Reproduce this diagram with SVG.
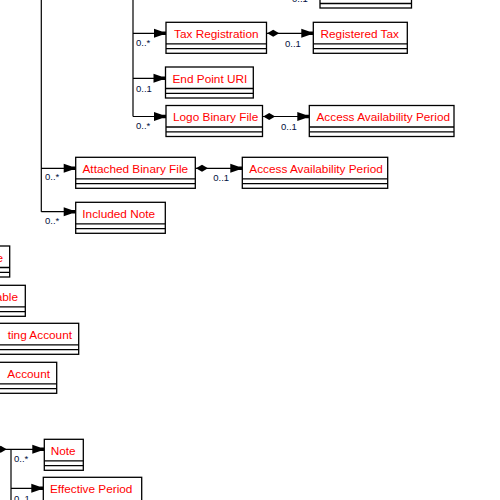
<svg xmlns="http://www.w3.org/2000/svg" xmlns:xlink="http://www.w3.org/1999/xlink" width="500" height="500" viewBox="0 0 500 500">
<style>
.box{fill:#fff;stroke:#000;stroke-width:1.3}
.sep{stroke:#000;stroke-width:1.3}
.ln{fill:none;stroke:#000;stroke-width:1.2}
.nm{font-family:"Liberation Sans",Arial,sans-serif;font-size:11.8px;fill:#f00}
.mul{font-family:"Liberation Sans",Arial,sans-serif;font-size:9.5px;fill:#001040}
.hd{fill:#000}
</style>
<defs>
<path id="arr" d="M-12,-4.5 L-4,-1.8 L0,-1.8 L0,1.8 L-4,1.8 L-12,4.5 Z"/>
<path id="dia" d="M0,0 L6,-3.5 L12,0 L6,3.5 Z"/>
</defs>
<rect width="500" height="500" fill="#fff"/>
<g id="connectors">
<path class="ln" d="M133,0 V116.5 M133,33.3 H166 M133,78.3 H165.5 M133,116.5 H166"/>
<path class="ln" d="M266.5,33.3 H313.3 M262.5,116.5 H309.3"/>
<path class="ln" d="M41.3,0 V211.7 M41.3,168.3 H75.7 M41.3,211.7 H75.7 M195.3,168.3 H242.3"/>
<path class="ln" d="M0,449.3 H44.3 M11,449.3 V500 M11,488.3 H43.3"/>
<g class="hd">
<use xlink:href="#arr" href="#arr" transform="translate(166,33.3)"/>
<use xlink:href="#arr" href="#arr" transform="translate(165.5,78.3)"/>
<use xlink:href="#arr" href="#arr" transform="translate(166,116.5)"/>
<use xlink:href="#arr" href="#arr" transform="translate(313.3,33.3)"/>
<use xlink:href="#arr" href="#arr" transform="translate(309.3,116.5)"/>
<use xlink:href="#arr" href="#arr" transform="translate(75.7,168.3)"/>
<use xlink:href="#arr" href="#arr" transform="translate(75.7,211.7)"/>
<use xlink:href="#arr" href="#arr" transform="translate(242.3,168.3)"/>
<use xlink:href="#arr" href="#arr" transform="translate(44.3,449.3)"/>
<use xlink:href="#arr" href="#arr" transform="translate(43.3,488.3)"/>
<use xlink:href="#dia" href="#dia" transform="translate(267.2,33.3)"/>
<use xlink:href="#dia" href="#dia" transform="translate(263.2,116.5)"/>
<use xlink:href="#dia" href="#dia" transform="translate(196,168.3)"/>
<use xlink:href="#dia" href="#dia" transform="translate(-5.3,449.3)"/>
</g>
<g>
<text class="mul" x="292" y="2">0..1</text>
<text class="mul" x="136" y="45.7">0..*</text>
<text class="mul" x="285" y="46.5">0..1</text>
<text class="mul" x="136" y="91.7">0..1</text>
<text class="mul" x="136" y="129">0..*</text>
<text class="mul" x="281" y="129.5">0..1</text>
<text class="mul" x="45" y="180">0..*</text>
<text class="mul" x="213.3" y="180.7">0..1</text>
<text class="mul" x="45" y="224.3">0..*</text>
<text class="mul" x="14" y="461.7">0..*</text>
<text class="mul" x="14" y="502">0..1</text>
</g>
</g>
<g id="top-partial">
<rect class="box" x="320" y="-23" width="91.5" height="31"/>
<line class="sep" x1="320" y1="3.5" x2="411.5" y2="3.5"/>
</g>
<g id="tax-registration">
<rect class="box" x="166" y="22.3" width="100.5" height="31"/>
<line class="sep" x1="166" y1="43.8" x2="266.5" y2="43.8"/>
<line class="sep" x1="166" y1="48.6" x2="266.5" y2="48.6"/>
<text class="nm" x="174" y="38">Tax Registration</text>
</g>
<g id="registered-tax">
<rect class="box" x="313.3" y="22.3" width="94" height="31"/>
<line class="sep" x1="313.3" y1="43.8" x2="407.3" y2="43.8"/>
<line class="sep" x1="313.3" y1="48.6" x2="407.3" y2="48.6"/>
<text class="nm" x="320.5" y="38">Registered Tax</text>
</g>
<g id="end-point-uri">
<rect class="box" x="165.5" y="67" width="87.8" height="31"/>
<line class="sep" x1="165.5" y1="88.5" x2="253.3" y2="88.5"/>
<line class="sep" x1="165.5" y1="93.3" x2="253.3" y2="93.3"/>
<text class="nm" x="172.5" y="83">End Point URI</text>
</g>
<g id="logo-binary-file">
<rect class="box" x="166" y="105.5" width="96.5" height="31"/>
<line class="sep" x1="166" y1="127" x2="262.5" y2="127"/>
<line class="sep" x1="166" y1="131.8" x2="262.5" y2="131.8"/>
<text class="nm" x="173" y="121.3">Logo Binary File</text>
</g>
<g id="access-availability-period-1">
<rect class="box" x="309.3" y="105.5" width="144.7" height="31"/>
<line class="sep" x1="309.3" y1="127" x2="454" y2="127"/>
<line class="sep" x1="309.3" y1="131.8" x2="454" y2="131.8"/>
<text class="nm" x="316.5" y="121.3">Access Availability Period</text>
</g>
<g id="attached-binary-file">
<rect class="box" x="75.7" y="157.3" width="119.6" height="31"/>
<line class="sep" x1="75.7" y1="178.8" x2="195.3" y2="178.8"/>
<line class="sep" x1="75.7" y1="183.6" x2="195.3" y2="183.6"/>
<text class="nm" x="82.5" y="173">Attached Binary File</text>
</g>
<g id="access-availability-period-2">
<rect class="box" x="242.3" y="157.3" width="145.4" height="31"/>
<line class="sep" x1="242.3" y1="178.8" x2="387.7" y2="178.8"/>
<line class="sep" x1="242.3" y1="183.6" x2="387.7" y2="183.6"/>
<text class="nm" x="249.3" y="173">Access Availability Period</text>
</g>
<g id="included-note">
<rect class="box" x="75.7" y="202.3" width="89.6" height="31"/>
<line class="sep" x1="75.7" y1="223.8" x2="165.3" y2="223.8"/>
<line class="sep" x1="75.7" y1="228.6" x2="165.3" y2="228.6"/>
<text class="nm" x="82.3" y="218">Included Note</text>
</g>
<g id="left-1">
<rect class="box" x="-60" y="246" width="69.7" height="31"/>
<line class="sep" x1="-60" y1="267.5" x2="9.7" y2="267.5"/>
<line class="sep" x1="-60" y1="272.3" x2="9.7" y2="272.3"/>
<text class="nm" x="3" y="261.7" text-anchor="end">e</text>
</g>
<g id="left-2">
<rect class="box" x="-60" y="285.3" width="85.3" height="31"/>
<line class="sep" x1="-60" y1="306.8" x2="25.3" y2="306.8"/>
<line class="sep" x1="-60" y1="311.6" x2="25.3" y2="311.6"/>
<text class="nm" x="18" y="301" text-anchor="end">able</text>
</g>
<g id="left-3">
<rect class="box" x="-60" y="323.3" width="138.7" height="31"/>
<line class="sep" x1="-60" y1="344.8" x2="78.7" y2="344.8"/>
<line class="sep" x1="-60" y1="349.6" x2="78.7" y2="349.6"/>
<text class="nm" x="72" y="339" text-anchor="end">ting Account</text>
</g>
<g id="left-4">
<rect class="box" x="-60" y="362.3" width="116.7" height="31"/>
<line class="sep" x1="-60" y1="383.8" x2="56.7" y2="383.8"/>
<line class="sep" x1="-60" y1="388.6" x2="56.7" y2="388.6"/>
<text class="nm" x="50" y="378" text-anchor="end">Account</text>
</g>
<g id="note">
<rect class="box" x="44.3" y="439.3" width="39" height="31"/>
<line class="sep" x1="44.3" y1="460.8" x2="83.3" y2="460.8"/>
<line class="sep" x1="44.3" y1="465.6" x2="83.3" y2="465.6"/>
<text class="nm" x="50.7" y="455">Note</text>
</g>
<g id="effective-period">
<rect class="box" x="43.3" y="477.3" width="98.4" height="31"/>
<text class="nm" x="50" y="493">Effective Period</text>
</g>
</svg>
